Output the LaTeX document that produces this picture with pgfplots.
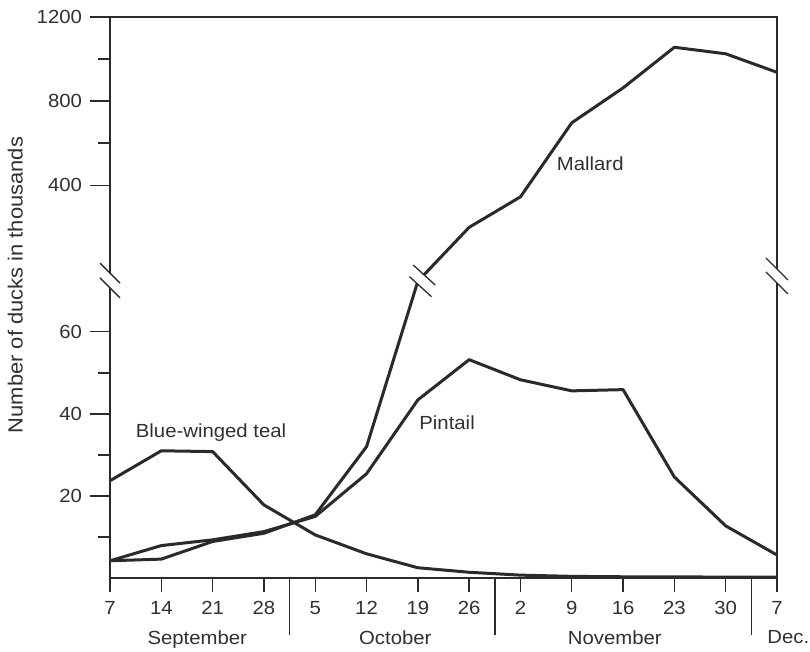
\documentclass[border=0pt]{standalone}
\usepackage{fontspec}
\setmainfont{Liberation Sans}[FakeStretch=1.07]
\usepackage{pgfplots}
\pgfplotsset{compat=1.18}
\definecolor{ink}{HTML}{2A2A2A}
\definecolor{txt}{HTML}{303030}
\begin{document}
\begin{tikzpicture}[x=1pt,y=1pt]
\path[use as bounding box] (0,0) rectangle (810,651);
\begin{axis}[
  at={(110pt,73pt)}, anchor=south west,
  scale only axis, width=667pt, height=561pt,
  xmin=0, xmax=13, ymin=0, ymax=136.7,
  clip=false,
  axis line style={draw=none},
  tick align=outside,
  xtick pos=left, ytick pos=left,
  xtick={0,...,13},
  xticklabels={7,14,21,28,5,12,19,26,2,9,16,23,30,7},
  ytick={20,40,60,95.7,116.2,136.7},
  yticklabels={20,40,60,400,800,1200},
  minor ytick={10,30,50,105.95,126.45},
  major tick length=20pt, minor tick length=12pt,
  xtick style={/pgfplots/major tick length=14pt, line width=1.4pt, ink},
  ytick style={line width=1.4pt, ink},
  minor tick style={line width=1.2pt, ink},
  ticklabel style={font=\fontsize{19}{22}\selectfont, text=txt},
  yticklabel style={xshift=-4.5pt},
]
% Blue-winged teal
\addplot[ink, line width=3pt, line join=round] coordinates {
 (0,23.7) (1,31.0) (2,30.8) (3,17.8) (4,10.5) (5,5.9) (6,2.5) (7,1.4)
 (8,0.7) (9,0.4) (10,0.3) (11,0.3) (12,0.2) (13,0.2)};
% Pintail
\addplot[ink, line width=3pt, line join=round] coordinates {
 (0,4.2) (1,7.9) (2,9.3) (3,11.3) (4,15.0) (5,25.4) (6,43.4) (7,53.2)
 (8,48.3) (9,45.6) (10,45.9) (11,24.6) (12,12.7) (13,5.6)};
% Mallard (values above 100 are on the upper, compressed scale)
\addplot[ink, line width=3pt, line join=round,
  y filter/.expression={y>100 ? 75.2+0.05125*y : y}] coordinates {
 (0,4.2) (1,4.6) (2,8.9) (3,10.9) (4,15.4) (5,32.0) (6,72.3) (7,200)
 (8,345) (9,697) (10,863) (11,1056) (12,1025) (13,937)};

% axis frame with breaks
\draw[ink, line width=1.5pt] (axis cs:0,0) -- (axis cs:13,0);
\draw[ink, line width=1.5pt] (axis cs:0,0) -- (axis cs:0,70.7);
\draw[ink, line width=1.5pt] (axis cs:0,74.3) -- (axis cs:0,136.7);
\draw[ink, line width=1.5pt] ([xshift=-0.75pt]axis cs:0,136.7) -- ([xshift=0.75pt]axis cs:13,136.7);
\draw[ink, line width=1.5pt] (axis cs:13,0) -- (axis cs:13,71.9);
\draw[ink, line width=1.5pt] (axis cs:13,75.3) -- (axis cs:13,136.7);
% break marks on the axes
\draw[ink, line width=1.3pt] ([shift={(-10pt,10pt)}]axis cs:0,74.3) -- ++(20pt,-20pt);
\draw[ink, line width=1.3pt] ([shift={(-10pt,10pt)}]axis cs:0,70.7) -- ++(20pt,-20pt);
\draw[ink, line width=1.3pt] ([shift={(-11pt,11pt)}]axis cs:13,75.3) -- ++(22pt,-22pt);
\draw[ink, line width=1.3pt] ([shift={(-11pt,11pt)}]axis cs:13,71.9) -- ++(22pt,-22pt);
% break on the Mallard curve
\fill[white] ([shift={(-11pt,10pt)}]axis cs:6.124,73.83) -- ([shift={(11pt,-10pt)}]axis cs:6.124,73.83)
  -- ([shift={(11pt,-10pt)}]axis cs:6.052,70.98) -- ([shift={(-11pt,10pt)}]axis cs:6.052,70.98) -- cycle;
\draw[ink, line width=1.3pt] ([shift={(-11pt,10pt)}]axis cs:6.124,73.83) -- ++(22pt,-20pt);
\draw[ink, line width=1.3pt] ([shift={(-11pt,10pt)}]axis cs:6.052,70.98) -- ++(22pt,-20pt);

% month separators
\draw[ink, line width=1.5pt] (axis cs:3.5,0) -- ++(0,-57pt);
\draw[ink, line width=1.5pt] (axis cs:7.5,0) -- ++(0,-57pt);
\draw[ink, line width=1.5pt] (axis cs:12.5,0) -- ++(0,-57pt);
\node[anchor=base, text=txt, font=\fontsize{19}{22}\selectfont] at ([yshift=-66pt]axis cs:1.70,0) {September};
\node[anchor=base, text=txt, font=\fontsize{19}{22}\selectfont] at ([yshift=-66pt]axis cs:5.56,0) {October};
\node[anchor=base, text=txt, font=\fontsize{19}{22}\selectfont] at ([yshift=-66pt]axis cs:9.84,0) {November};
\node[anchor=base, text=txt, font=\fontsize{19}{22}\selectfont] at ([yshift=-65pt]axis cs:13.22,0) {Dec.};

% series labels
\node[text=txt, font=\fontsize{19}{22}\selectfont] at (axis cs:9.36,101.0) {Mallard};
\node[text=txt, font=\fontsize{19}{22}\selectfont] at (axis cs:6.57,37.8) {Pintail};
\node[text=txt, font=\fontsize{19}{22}\selectfont] at (axis cs:1.97,35.4) {Blue-winged teal};
\end{axis}
\node[rotate=90, anchor=base, inner sep=0pt, text=txt, font=\fontsize{20.5}{24}\selectfont] at (22.5,366) {Number of ducks in thousands};
\end{tikzpicture}
\end{document}
